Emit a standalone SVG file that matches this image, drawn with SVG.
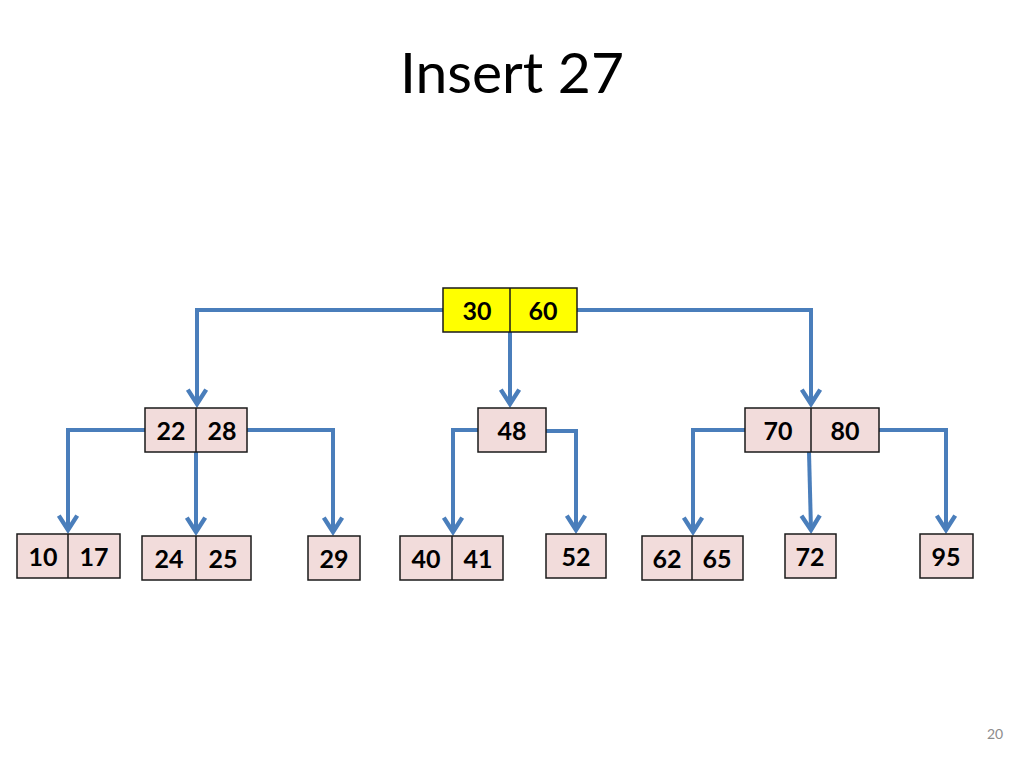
<svg xmlns="http://www.w3.org/2000/svg" width="1024" height="768" viewBox="0 0 1024 768">
<style>
.n{fill:#f2dcdb;stroke:#1a1a1a;stroke-width:1.5}
.y{fill:#ffff00;stroke:#1a1a1a;stroke-width:1.5}
.d{stroke:#1a1a1a;stroke-width:1.5}
.t{font-family:"Lato","Liberation Sans",sans-serif;font-weight:bold;font-size:25px;fill:#000;text-anchor:middle}
.c{fill:none;stroke:#4a7ebb;stroke-width:4;marker-end:url(#a)}
</style>
<defs>
<marker id="a" markerWidth="8" markerHeight="8" viewBox="-5 -4 6 8" refX="0" refY="0" orient="auto" markerUnits="strokeWidth">
<polyline points="-3.6,-2.3 0,0 -3.6,2.3" fill="none" stroke="#4a7ebb" stroke-width="1.1"/>
</marker>
</defs>
<rect width="1024" height="768" fill="#fff"/>
<text x="512" y="93" font-family="Lato,'Liberation Sans',sans-serif" font-size="57" text-anchor="middle" fill="#000">Insert 27</text>
<text x="995" y="739" font-family="Lato,'Liberation Sans',sans-serif" font-size="14" text-anchor="middle" fill="#8c8c8c">20</text>
<g id="connectors">
<polyline class="c" points="443,310 197,310 197,404"/>
<polyline class="c" points="510,332 510,404"/>
<polyline class="c" points="577,310 811,310 811,404"/>
<polyline class="c" points="145,430 68,430 68,530"/>
<polyline class="c" points="196,452 196,532"/>
<polyline class="c" points="247,430 333,430 333,532"/>
<polyline class="c" points="478,430 453,430 453,532"/>
<polyline class="c" points="546,431 576,431 576,530"/>
<polyline class="c" points="745,430 693,430 693,532"/>
<polyline class="c" points="809,452 811,530"/>
<polyline class="c" points="879,430 946,430 946,530"/>
</g>
<g id="n3060"><rect class="y" x="443" y="288" width="134" height="44"/><line class="d" x1="510" y1="288" x2="510" y2="332"/><text class="t" x="477" y="320">30</text><text class="t" x="543" y="320">60</text></g>
<g id="n2228"><rect class="n" x="145" y="408" width="102" height="44"/><line class="d" x1="196" y1="408" x2="196" y2="452"/><text class="t" x="171" y="440">22</text><text class="t" x="222" y="440">28</text></g>
<g id="n48"><rect class="n" x="478" y="408" width="68" height="44"/><text class="t" x="512" y="440">48</text></g>
<g id="n7080"><rect class="n" x="745" y="408" width="134" height="44"/><line class="d" x1="811" y1="408" x2="811" y2="452"/><text class="t" x="778" y="440">70</text><text class="t" x="845" y="440">80</text></g>
<g id="n1017"><rect class="n" x="17" y="534" width="103" height="44"/><line class="d" x1="68" y1="534" x2="68" y2="578"/><text class="t" x="43" y="566">10</text><text class="t" x="94" y="566">17</text></g>
<g id="n2425"><rect class="n" x="142" y="536" width="109" height="44"/><line class="d" x1="196" y1="536" x2="196" y2="580"/><text class="t" x="169" y="568">24</text><text class="t" x="223" y="568">25</text></g>
<g id="n29"><rect class="n" x="308" y="536" width="52" height="44"/><text class="t" x="334" y="568">29</text></g>
<g id="n4041"><rect class="n" x="400" y="536" width="103" height="44"/><line class="d" x1="452" y1="536" x2="452" y2="580"/><text class="t" x="426" y="568">40</text><text class="t" x="478" y="568">41</text></g>
<g id="n52"><rect class="n" x="546" y="534" width="60" height="44"/><text class="t" x="576" y="566">52</text></g>
<g id="n6265"><rect class="n" x="642" y="536" width="101" height="44"/><line class="d" x1="692" y1="536" x2="692" y2="580"/><text class="t" x="667" y="568">62</text><text class="t" x="717" y="568">65</text></g>
<g id="n72"><rect class="n" x="785" y="534" width="51" height="44"/><text class="t" x="810" y="566">72</text></g>
<g id="n95"><rect class="n" x="920" y="534" width="53" height="44"/><text class="t" x="946" y="566">95</text></g>
</svg>
